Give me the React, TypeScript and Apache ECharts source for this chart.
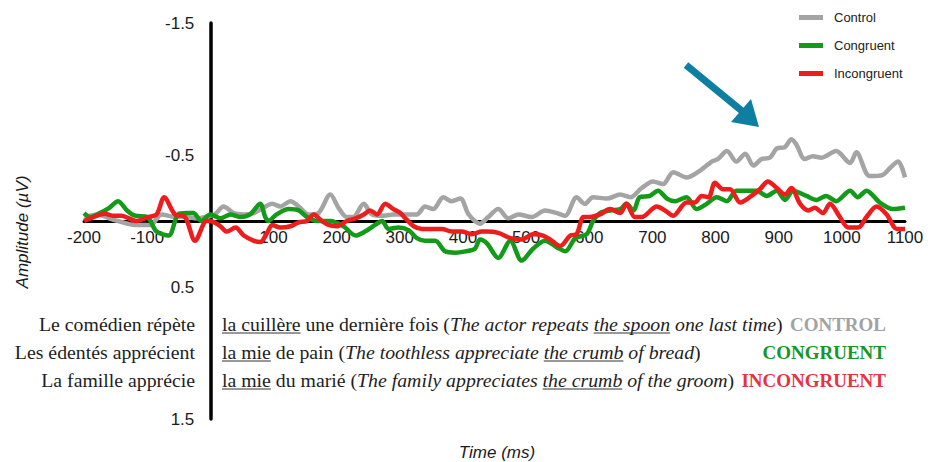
import React, { useEffect, useRef } from "react";
import * as echarts from "echarts";

// ERP waveforms: [time (ms), amplitude (µV)], negative plotted upward
const SERIES_NAMES = ["Control", "Congruent", "Incongruent"];
const SERIES_COLORS = ["#a4a4a4", "#139a18", "#ee1c1c"];

const controlData: [number, number][] = [
  [-200, -0.03], [-177, -0.05], [-160, -0.02], [-146, 0.0], [-119, 0.03], [-95, 0.03],
  [-77, -0.05], [-56, -0.03], [-40, -0.03], [-20, -0.02], [-8, -0.03], [7, -0.05],
  [21, -0.11], [37, -0.06], [53, -0.05], [69, -0.06], [84, -0.1], [98, -0.13],
  [111, -0.11], [127, -0.15], [140, -0.11], [156, -0.05], [171, -0.06], [190, -0.2],
  [203, -0.1], [216, -0.03], [226, -0.03], [243, -0.13], [256, -0.05], [275, -0.04],
  [290, -0.05], [309, -0.05], [327, -0.05], [340, -0.11], [353, -0.09], [369, -0.18],
  [382, -0.15], [396, -0.17], [409, -0.05], [427, 0.02], [440, -0.03], [456, -0.09],
  [472, -0.02], [488, -0.05], [509, -0.03], [530, -0.08], [549, -0.06], [562, -0.04],
  [580, -0.18], [593, -0.13], [606, -0.18], [628, -0.17], [649, -0.2], [665, -0.18],
  [683, -0.25], [701, -0.3], [717, -0.28], [733, -0.37], [754, -0.33], [775, -0.38],
  [794, -0.45], [804, -0.47], [818, -0.53], [833, -0.45], [847, -0.51], [860, -0.42],
  [873, -0.47], [886, -0.48], [897, -0.55], [910, -0.56], [920, -0.62], [928, -0.58],
  [941, -0.47], [954, -0.49], [968, -0.48], [991, -0.53], [1013, -0.44], [1023, -0.52],
  [1044, -0.34], [1065, -0.35], [1076, -0.4], [1089, -0.45], [1100, -0.33],
];

const congruentData: [number, number][] = [
  [-200, -0.06], [-190, -0.03], [-175, -0.06], [-160, -0.1], [-146, -0.15], [-132, -0.08],
  [-119, -0.04], [-100, -0.03], [-85, 0.08], [-66, 0.11], [-51, -0.05], [-38, -0.06],
  [-27, -0.06], [-14, 0.0], [0, -0.05], [16, -0.02], [32, -0.05], [47, -0.03],
  [63, -0.05], [79, -0.13], [87, -0.03], [92, 0.0], [105, -0.05], [124, -0.09],
  [140, -0.08], [153, -0.03], [169, 0.0], [190, 0.0], [211, 0.04], [230, 0.11],
  [245, 0.08], [261, 0.03], [272, 0.0], [282, 0.06], [298, 0.05], [314, 0.07],
  [327, 0.13], [340, 0.15], [356, 0.15], [372, 0.23], [388, 0.24], [404, 0.23],
  [419, 0.21], [427, 0.14], [438, 0.17], [456, 0.28], [475, 0.15], [493, 0.3],
  [511, 0.21], [530, 0.15], [549, 0.2], [562, 0.23], [578, 0.13], [596, 0.1],
  [606, 0.0], [617, -0.06], [633, -0.08], [649, -0.09], [659, -0.13], [670, -0.08],
  [680, -0.18], [696, -0.19], [709, -0.23], [723, -0.17], [736, -0.15], [754, -0.18],
  [770, -0.09], [786, -0.13], [802, -0.18], [818, -0.15], [833, -0.23], [849, -0.23],
  [865, -0.23], [881, -0.19], [897, -0.23], [910, -0.16], [923, -0.23], [944, -0.19],
  [960, -0.16], [975, -0.19], [991, -0.15], [1013, -0.23], [1025, -0.18], [1039, -0.23],
  [1060, -0.14], [1081, -0.09], [1100, -0.1],
];

const incongruentData: [number, number][] = [
  [-200, 0.0], [-185, -0.03], [-167, -0.055], [-155, -0.04], [-141, -0.04], [-117, 0.0],
  [-98, -0.03], [-85, -0.05], [-73, -0.18], [-56, -0.05], [-40, -0.03], [-24, 0.15],
  [-6, 0.0], [0, 0.0], [16, 0.04], [26, 0.08], [40, 0.05], [53, 0.11],
  [69, 0.15], [79, 0.16], [90, 0.09], [98, 0.03], [111, 0.05], [127, 0.04],
  [140, 0.01], [153, 0.0], [164, -0.05], [174, -0.01], [187, 0.03], [200, 0.04],
  [216, 0.0], [230, -0.02], [243, -0.05], [253, -0.08], [264, -0.05], [277, -0.13],
  [290, -0.09], [301, -0.06], [311, -0.01], [322, 0.04], [335, 0.06], [351, 0.06],
  [367, 0.06], [382, 0.08], [398, 0.08], [414, 0.1], [430, 0.08], [438, 0.08],
  [456, 0.09], [475, 0.13], [493, 0.14], [511, 0.1], [527, 0.11], [541, 0.15],
  [554, 0.19], [570, 0.11], [580, 0.1], [591, -0.03], [601, -0.03], [617, -0.05],
  [633, -0.09], [649, -0.06], [659, -0.13], [672, -0.03], [683, -0.03], [707, -0.11],
  [720, -0.08], [733, -0.04], [754, -0.14], [767, -0.14], [778, -0.19], [789, -0.18],
  [799, -0.29], [812, -0.24], [823, -0.24], [839, -0.14], [854, -0.18], [870, -0.24],
  [883, -0.3], [897, -0.25], [910, -0.2], [920, -0.25], [934, -0.13], [947, -0.08],
  [957, -0.1], [970, -0.06], [981, -0.13], [997, -0.03], [1010, 0.05], [1026, 0.05],
  [1039, -0.03], [1055, -0.11], [1071, -0.05], [1087, 0.06], [1100, 0.06],
];

const SERIES_DATA = [controlData, congruentData, incongruentData];

// Stimulus sentences shown under the waveforms
type Seg = { t: string; i?: boolean; u?: boolean };
const SENTENCE_STARTS = ["Le comédien répète", "Les édentés apprécient", "La famille apprécie"];
const SENTENCE_ENDS: Seg[][] = [
  [
    { t: "la cuillère", u: true },
    { t: " une dernière fois (" },
    { t: "The actor repeats ", i: true },
    { t: "the spoon", i: true, u: true },
    { t: " one last time", i: true },
    { t: ")" },
  ],
  [
    { t: "la mie", u: true },
    { t: " de pain (" },
    { t: "The toothless appreciate ", i: true },
    { t: "the crumb", i: true, u: true },
    { t: " of bread", i: true },
    { t: ")" },
  ],
  [
    { t: "la mie", u: true },
    { t: " du marié (" },
    { t: "The family appreciates ", i: true },
    { t: "the crumb", i: true, u: true },
    { t: " of the groom", i: true },
    { t: ")" },
  ],
];
const CONDITION_LABELS = ["CONTROL", "CONGRUENT", "INCONGRUENT"];
const CONDITION_COLORS = ["#a2a2a2", "#16952b", "#e3343f"];

const SERIF = '"Liberation Serif", "Times New Roman", serif';
const SANS = '"Liberation Sans", Arial, sans-serif';
const SERIF_SIZE = 19.8;
const TEXT_COLOR = "#1e1e1e";

function buildSentenceGraphics(): any[] {
  const ctx = document.createElement("canvas").getContext("2d") as CanvasRenderingContext2D;
  const measure = (s: string, italic: boolean) => {
    ctx.font = `${italic ? "italic " : ""}${SERIF_SIZE}px ${SERIF}`;
    return ctx.measureText(s).width;
  };
  const els: any[] = [];
  const rowY = [324, 352, 380];
  rowY.forEach((y, r) => {
    els.push({
      type: "text",
      x: 195,
      y,
      style: {
        text: SENTENCE_STARTS[r],
        fontFamily: SERIF,
        fontSize: SERIF_SIZE,
        fill: TEXT_COLOR,
        textAlign: "right",
        textVerticalAlign: "middle",
      },
    });
    let cx = 222;
    SENTENCE_ENDS[r].forEach((seg) => {
      const italic = !!seg.i;
      const lead = seg.t.length - seg.t.replace(/^\s+/, "").length;
      const leadW = lead ? measure(seg.t.slice(0, lead), italic) : 0;
      const body = seg.t.trim();
      const bodyW = measure(body, italic);
      const x0 = cx + leadW;
      els.push({
        type: "text",
        x: x0,
        y,
        style: {
          text: body,
          fontFamily: SERIF,
          fontSize: SERIF_SIZE,
          fontStyle: italic ? "italic" : "normal",
          fill: TEXT_COLOR,
          textAlign: "left",
          textVerticalAlign: "middle",
        },
      });
      if (seg.u) {
        els.push({
          type: "line",
          shape: { x1: x0, y1: y + 9, x2: x0 + bodyW, y2: y + 9 },
          style: { stroke: "#333", lineWidth: 1 },
        });
      }
      cx += measure(seg.t, italic);
    });
    els.push({
      type: "text",
      x: 886,
      y,
      style: {
        text: CONDITION_LABELS[r],
        fontFamily: SERIF,
        fontSize: 19,
        fontWeight: "bold",
        fill: CONDITION_COLORS[r],
        textAlign: "right",
        textVerticalAlign: "middle",
      },
    });
  });
  return els;
}

export default function App() {
  const ref = useRef<HTMLDivElement>(null);

  useEffect(() => {
    if (!ref.current) return;
    const chart = echarts.init(ref.current, undefined, { renderer: "svg" });

    // plot area: x -200..1100 over 84..905 px, y -1.5..1.5 over 23..419 px
    const gridLeft = 84;
    const gridTop = 23;
    const gridW = 821;
    const gridH = 396;
    const xMin = -200;
    const xMax = 1100;
    const yMin = -1.5;
    const yMax = 1.5;
    // move both axes (line and labels) to the origin
    const yAxisShift = ((0 - xMin) / (xMax - xMin)) * gridW;
    const xAxisShift = ((yMax - 0) / (yMax - yMin)) * gridH;

    const option: any = {
      animation: false,
      backgroundColor: "#ffffff",
      grid: { left: gridLeft, right: 933 - gridLeft - gridW, top: gridTop, bottom: 462 - gridTop - gridH, containLabel: false },
      legend: {
        orient: "vertical",
        left: 794,
        top: 6,
        icon: "rect",
        itemWidth: 24,
        itemHeight: 5,
        itemGap: 15,
        textStyle: { fontSize: 13, color: "#222", fontFamily: SANS, padding: [0, 0, 0, 6] },
        data: SERIES_NAMES,
      },
      xAxis: {
        type: "value",
        position: "bottom",
        offset: -xAxisShift,
        min: xMin,
        max: xMax,
        interval: 100,
        axisLine: { show: true, onZero: false, lineStyle: { color: "#000", width: 3 } },
        axisTick: { show: false },
        splitLine: { show: false },
        axisLabel: {
          fontSize: 17,
          color: "#1a1a1a",
          fontFamily: SANS,
          margin: 8,
          showMinLabel: true,
          showMaxLabel: true,
          formatter: (v: number) => (v === 0 ? "" : String(v)),
        },
      },
      yAxis: {
        type: "value",
        position: "left",
        offset: -yAxisShift,
        inverse: true,
        min: yMin,
        max: yMax,
        interval: 0.5,
        axisLine: { show: true, onZero: false, lineStyle: { color: "#000", width: 3.5 } },
        axisTick: { show: false },
        splitLine: { show: false },
        axisLabel: {
          fontSize: 17,
          color: "#1a1a1a",
          fontFamily: SANS,
          margin: 16,
          formatter: (v: number) =>
            Math.round(Math.abs(v) * 10) % 10 === 5 ? v.toFixed(1) : "",
        },
      },
      series: SERIES_NAMES.map((name, k) => ({
        name,
        type: "line",
        data: SERIES_DATA[k],
        showSymbol: false,
        smooth: 0.3,
        z: 3 + k,
        color: SERIES_COLORS[k],
        lineStyle: { color: SERIES_COLORS[k], width: 4.5 },
      })),
      graphic: [
        {
          type: "text",
          x: 22,
          y: 232,
          rotation: Math.PI / 2,
          style: {
            text: "Amplitude (µV)",
            fontFamily: SANS,
            fontSize: 17,
            fontStyle: "italic",
            fill: "#1a1a1a",
            textAlign: "center",
            textVerticalAlign: "middle",
          },
        },
        {
          type: "text",
          x: 497,
          y: 452,
          style: {
            text: "Time (ms)",
            fontFamily: SANS,
            fontSize: 17,
            fontStyle: "italic",
            fill: "#1a1a1a",
            textAlign: "center",
            textVerticalAlign: "middle",
          },
        },
        // pointer arrow to the late effect
        {
          type: "line",
          shape: { x1: 686, y1: 65, x2: 742, y2: 111 },
          style: { stroke: "#0e7ea2", lineWidth: 7 },
        },
        {
          type: "polygon",
          shape: { points: [[731, 122], [751, 99], [759, 127]] },
          style: { fill: "#0e7ea2" },
        },
        ...buildSentenceGraphics(),
      ],
    };

    chart.setOption(option);
    return () => chart.dispose();
  }, []);

  return (
    <div
      ref={ref}
      style={{ position: "fixed", left: 0, top: 0, width: 933, height: 462, background: "#fff" }}
    />
  );
}
